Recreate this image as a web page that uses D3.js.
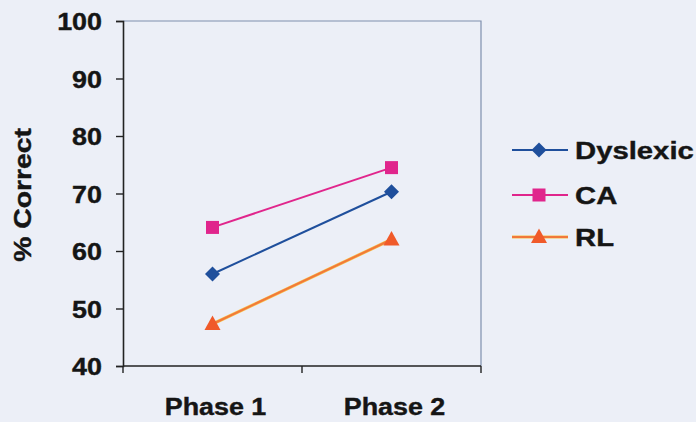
<!DOCTYPE html>
<html>
<head>
<meta charset="utf-8">
<script src="https://cdn.jsdelivr.net/npm/d3@7"></script>
<style>
  html, body { margin: 0; padding: 0; background: #eceff7; }
  svg { display: block; }
  text { font-family: "Liberation Sans", Arial, sans-serif; font-weight: bold; fill: #151515; stroke: #151515; stroke-width: 0.4px; }
</style>
</head>
<body>
<svg id="chart" width="696" height="422"></svg>
<script>
// Percent correct per group across two test phases
const phases = ["Phase 1", "Phase 2"];
const dyslexic = [56.0, 70.3];
const ca = [64.1, 74.5];
const rl = [47.3, 62.0];
const yTicks = [40, 50, 60, 70, 80, 90, 100];

const series = [
  { name: "Dyslexic", values: dyslexic, color: "#1f4f9c", marker: "diamond" },
  { name: "CA", values: ca, color: "#e0258c", marker: "square" },
  { name: "RL", values: rl, color: "#f2783a", marker: "triangle" }
];

const svg = d3.select("#chart");
const plotLeft = 123, plotRight = 481, plotTop = 21, plotBottom = 366;
const fontSize = 24;
const stretch = 1.12;      // wide bold lettering

const x = d3.scaleBand().domain(phases).range([plotLeft, plotRight]);
const y = d3.scaleLinear().domain([40, 100]).range([plotBottom, plotTop]);

// plot frame (top and right edges)
svg.append("path")
  .attr("d", `M${plotLeft},${plotTop}H${plotRight}V${plotBottom}`)
  .attr("fill", "none")
  .attr("stroke", "#7f8fae")
  .attr("stroke-width", 1.2);

// y axis
const yAxis = svg.append("g")
  .attr("transform", `translate(${plotLeft},0)`)
  .call(d3.axisLeft(y).tickValues(yTicks).tickSize(7).tickPadding(14));
yAxis.select(".domain").attr("stroke", "#222").attr("stroke-width", 1.6);
yAxis.selectAll(".tick line").attr("stroke", "#222").attr("stroke-width", 1.4);
yAxis.selectAll(".tick text")
  .attr("x", -21 / stretch)
  .attr("dy", "0.36em")
  .attr("transform", `scale(${stretch},1)`)
  .attr("font-size", fontSize)
  .attr("font-family", "Liberation Sans, Arial, sans-serif")
  .attr("font-weight", "bold")
  .attr("fill", "#151515");

// x axis with ticks at category boundaries
const xAxis = svg.append("g")
  .attr("transform", `translate(0,${plotBottom})`);
xAxis.append("line")
  .attr("x1", plotLeft).attr("x2", plotRight)
  .attr("stroke", "#222").attr("stroke-width", 1.6);
const boundaries = phases.map(p => x(p)).concat([x(phases[phases.length - 1]) + x.bandwidth()]);
xAxis.selectAll("line.tick")
  .data(boundaries)
  .join("line")
  .attr("class", "tick")
  .attr("x1", d => d).attr("x2", d => d)
  .attr("y1", 0).attr("y2", 7)
  .attr("stroke", "#222").attr("stroke-width", 1.4);
xAxis.selectAll("text")
  .data(phases)
  .join("text")
  .attr("transform", d => `translate(${x(d) + x.bandwidth() / 2 + 3},49) scale(${stretch},1)`)
  .attr("text-anchor", "middle")
  .attr("font-size", fontSize)
  .text(d => d);

// y axis title
svg.append("text")
  .attr("transform", `translate(31,195) rotate(-90) scale(${stretch + 0.06},1)`)
  .attr("text-anchor", "middle")
  .attr("font-size", fontSize)
  .text("% Correct");

function drawMarker(g, type, color, cx, cy) {
  if (type === "diamond") {
    g.append("path")
      .attr("d", `M${cx},${cy - 7.5}L${cx + 7.5},${cy}L${cx},${cy + 7.5}L${cx - 7.5},${cy}Z`)
      .attr("fill", color);
  } else if (type === "square") {
    g.append("rect")
      .attr("x", cx - 6.5).attr("y", cy - 6.5)
      .attr("width", 13).attr("height", 13)
      .attr("fill", color);
  } else {
    g.append("path")
      .attr("d", `M${cx},${cy - 8.5}L${cx + 8},${cy + 6}L${cx - 8},${cy + 6}Z`)
      .attr("fill", "#f05a2a");
  }
}

const line = d3.line()
  .x((d, i) => x(phases[i]) + x.bandwidth() / 2)
  .y(d => y(d));

series.forEach(s => {
  const g = svg.append("g");
  if (s.marker === "triangle") {
    g.append("path").attr("d", line(s.values))
      .attr("fill", "none").attr("stroke", "#f6c04a").attr("stroke-width", 3.2);
  }
  g.append("path").attr("d", line(s.values))
    .attr("fill", "none").attr("stroke", s.color).attr("stroke-width", 2);
  s.values.forEach((v, i) => {
    drawMarker(g, s.marker, s.color, x(phases[i]) + x.bandwidth() / 2, y(v));
  });
});

// legend
const legendY = [150, 195, 237];
series.forEach((s, i) => {
  const g = svg.append("g");
  const ly = legendY[i];
  if (s.marker === "triangle") {
    g.append("line").attr("x1", 512).attr("x2", 568).attr("y1", ly).attr("y2", ly)
      .attr("stroke", "#f6c04a").attr("stroke-width", 3.2);
  }
  g.append("line").attr("x1", 512).attr("x2", 568).attr("y1", ly).attr("y2", ly)
    .attr("stroke", s.color).attr("stroke-width", 2);
  drawMarker(g, s.marker, s.color, 539, ly);
  g.append("text")
    .attr("transform", `translate(575,${ly + 9}) scale(${stretch + 0.1},1)`)
    .attr("font-size", fontSize)
    .text(s.name);
});
</script>
</body>
</html>
